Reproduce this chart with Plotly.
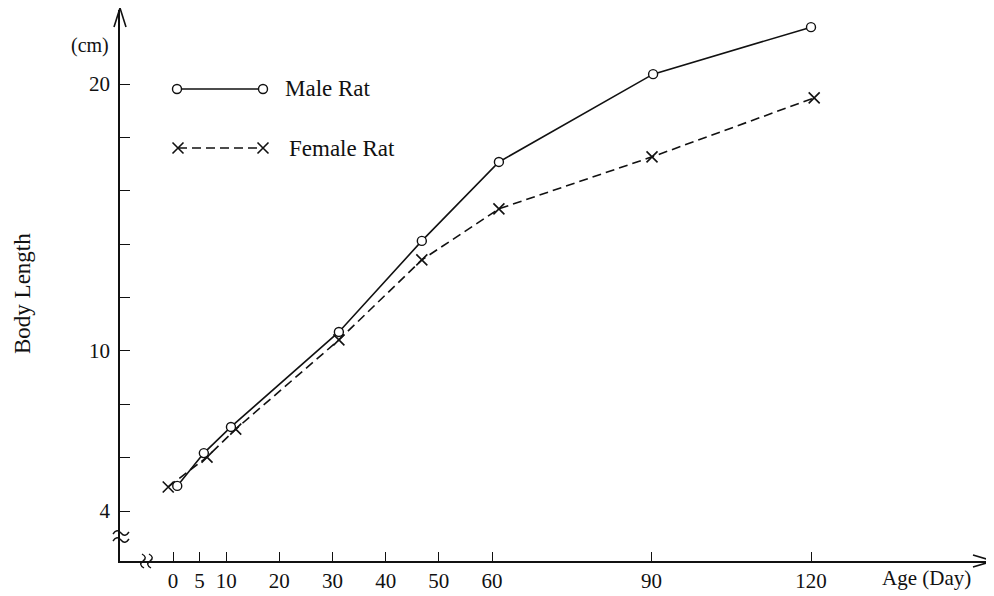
import plotly.graph_objects as go

# ---- data ----
male_days = [0.8, 5.8, 10.9, 31.2, 46.8, 61.3, 90.3, 120.0]
male_len = [4.94, 6.17, 7.15, 10.71, 14.12, 17.08, 20.37, 22.13]
female_days = [-0.9, 6.4, 11.8, 31.2, 46.8, 61.3, 90.1, 120.6]
female_len = [4.90, 6.02, 7.07, 10.41, 13.41, 15.32, 17.27, 19.48]

x_ticks = [0, 5, 10, 20, 30, 40, 50, 60, 90, 120]
y_ticks = [4, 6, 8, 10, 12, 14, 16, 18, 20]
y_ticktext = ["4", "", "", "10", "", "", "", "", "20"]

OFF = 8
W, H = 994 - OFF, 596 - OFF
PLOT_L, PLOT_R, PLOT_T, PLOT_B = 120, 990, 10, 561   # screen pixels
L, R, T, B = PLOT_L - OFF, W - (PLOT_R - OFF), PLOT_T - OFF, H - (PLOT_B - OFF)
PW, PH = W - L - R, H - T - B
FONT = "Liberation Serif, Times New Roman, serif"
INK = "#111111"


def px(x):
    return (x - PLOT_L) / PW


def py(y):
    return (PLOT_B - y) / PH


fig = go.Figure()

fig.add_trace(go.Scatter(
    x=female_days, y=female_len, mode="lines+markers", name="Female Rat",
    line=dict(color=INK, width=1.6, dash="9px,5px"),
    marker=dict(symbol="x-thin-open", size=11, line=dict(color=INK, width=1.6)),
    showlegend=False))
fig.add_trace(go.Scatter(
    x=male_days, y=male_len, mode="lines+markers", name="Male Rat",
    line=dict(color=INK, width=1.6),
    marker=dict(symbol="circle", size=9, color="white", line=dict(color=INK, width=1.4)),
    showlegend=False))

# legend keys on an overlay axis in [0,1]
fig.add_trace(go.Scatter(
    x=[px(177), px(263)], y=[py(89), py(89)], xaxis="x2", yaxis="y2",
    mode="lines+markers", line=dict(color=INK, width=1.6),
    marker=dict(symbol="circle", size=9, color="white", line=dict(color=INK, width=1.4)),
    showlegend=False, hoverinfo="skip"))
fig.add_trace(go.Scatter(
    x=[px(178), px(263)], y=[py(148), py(148)], xaxis="x2", yaxis="y2",
    mode="lines+markers", line=dict(color=INK, width=1.6, dash="9px,5px"),
    marker=dict(symbol="x-thin-open", size=11, line=dict(color=INK, width=1.6)),
    showlegend=False, hoverinfo="skip"))

x0 = 173
sx = (811 - 173) / 120.0
y4 = 511
sy = (511 - 84) / 16.0
xrange = [(PLOT_L - x0) / sx, (PLOT_R - x0) / sx]
yrange = [4 - (PLOT_B - y4) / sy, 4 + (y4 - PLOT_T) / sy]


def wave_h(cx, cy, half=8):
    return (f"M {px(cx - half)},{py(cy + 1)} "
            f"Q {px(cx - half / 2)},{py(cy - 5)} {px(cx)},{py(cy)} "
            f"T {px(cx + half)},{py(cy - 1)}")


def wave_v(cx, cy, half=7):
    return (f"M {px(cx - 1)},{py(cy - half)} "
            f"Q {px(cx + 5)},{py(cy - half / 2)} {px(cx)},{py(cy)} "
            f"T {px(cx + 1)},{py(cy + half)}")


shapes = [
    dict(type="path", xref="paper", yref="paper",
         path=f"M {px(114)},{py(27)} L {px(120)},{py(8)} L {px(126)},{py(27)}",
         line=dict(color=INK, width=1.6)),
    dict(type="path", xref="paper", yref="paper",
         path=f"M {px(973)},{py(555)} L {px(993)},{py(561)} L {px(973)},{py(567)}",
         line=dict(color=INK, width=1.6)),
    dict(type="line", xref="paper", yref="paper", x0=1, x1=px(993), y0=0, y1=0,
         line=dict(color=INK, width=1.6)),
    dict(type="path", xref="paper", yref="paper", path=wave_h(121, 533),
         line=dict(color=INK, width=1.4)),
    dict(type="path", xref="paper", yref="paper", path=wave_h(121, 540),
         line=dict(color=INK, width=1.4)),
    dict(type="path", xref="paper", yref="paper", path=wave_v(143, 561),
         line=dict(color=INK, width=1.4)),
    dict(type="path", xref="paper", yref="paper", path=wave_v(150, 561),
         line=dict(color=INK, width=1.4)),
]

annotations = [
    dict(text="Male Rat", x=px(283), y=py(89), xref="paper", yref="paper",
         xanchor="left", yanchor="middle", showarrow=False,
         font=dict(family=FONT, size=23, color=INK)),
    dict(text="Female Rat", x=px(287), y=py(148), xref="paper", yref="paper",
         xanchor="left", yanchor="middle", showarrow=False,
         font=dict(family=FONT, size=23, color=INK)),
    dict(text="(cm)", x=px(90), y=py(45), xref="paper", yref="paper",
         xanchor="center", yanchor="middle", showarrow=False,
         font=dict(family=FONT, size=20, color=INK)),
    dict(text="Body Length", x=px(22), y=py(294), xref="paper", yref="paper",
         xanchor="center", yanchor="middle", showarrow=False, textangle=-90,
         font=dict(family=FONT, size=23, color=INK)),
    dict(text="Age (Day)", x=px(926), y=py(578), xref="paper", yref="paper",
         xanchor="center", yanchor="middle", showarrow=False,
         font=dict(family=FONT, size=21, color=INK)),
]

fig.update_layout(
    template="none",
    width=W, height=H,
    margin=dict(l=L, r=R, t=T, b=B, autoexpand=False),
    paper_bgcolor="white", plot_bgcolor="white",
    font=dict(family=FONT, color=INK),
    xaxis=dict(range=xrange, tickmode="array", tickvals=x_ticks,
               ticktext=[str(v) for v in x_ticks], automargin=False,
               ticks="inside", ticklen=9, tickwidth=1.4, tickcolor=INK,
               showline=True, linecolor=INK, linewidth=1.6,
               showgrid=False, zeroline=False, ticklabelstandoff=0,
               tickfont=dict(family=FONT, size=21, color=INK)),
    yaxis=dict(range=yrange, tickmode="array", tickvals=y_ticks,
               ticktext=y_ticktext, automargin=False,
               ticks="inside", ticklen=10, tickwidth=1.4, tickcolor=INK,
               showline=True, linecolor=INK, linewidth=1.6,
               showgrid=False, zeroline=False, ticklabelstandoff=4,
               tickfont=dict(family=FONT, size=21, color=INK)),
    xaxis2=dict(range=[0, 1], overlaying="x", visible=False, fixedrange=True),
    yaxis2=dict(range=[0, 1], overlaying="y", visible=False, fixedrange=True),
    shapes=shapes, annotations=annotations,
)

fig.write_html("out.html")
